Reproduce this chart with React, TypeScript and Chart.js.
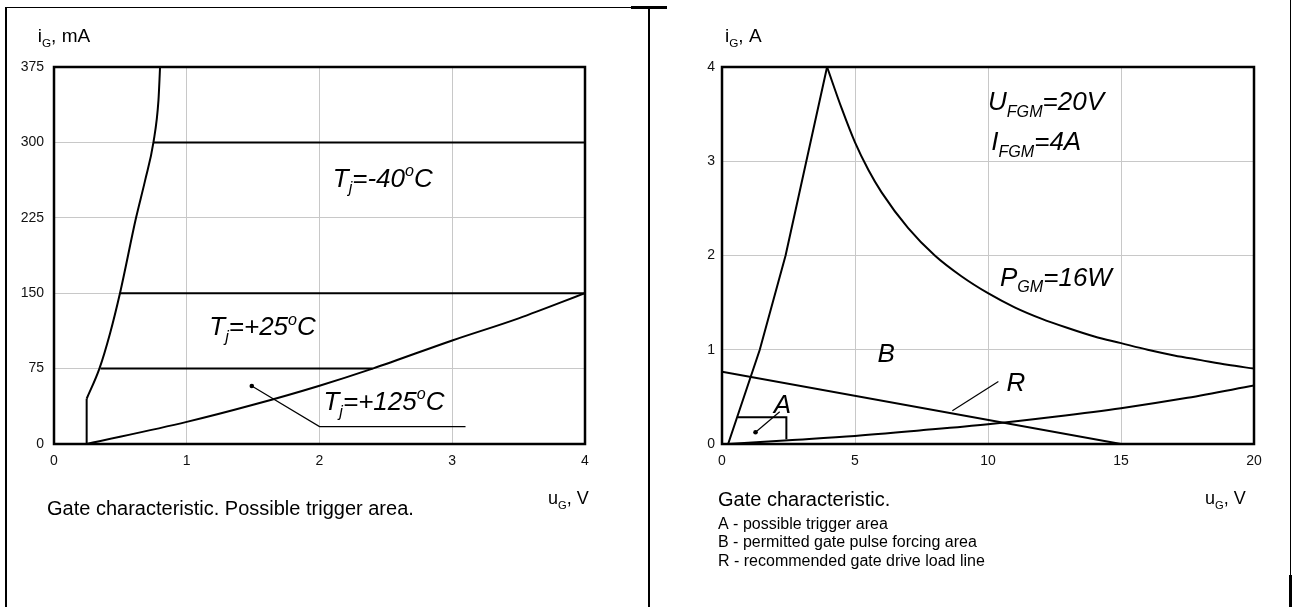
import React, { useEffect, useRef } from "react";
import { Chart, registerables } from "chart.js";

Chart.register(...registerables);

const FONT = "'Liberation Sans', Arial, Helvetica, sans-serif";

// ---------------- Left chart data (u_G in V, i_G in mA) ----------------
const leftXTicks = [0, 1, 2, 3, 4];
const leftYTicks = [0, 75, 150, 225, 300, 375];
const leftVertU = [0.246, 0.246];
const leftVertI = [0, 45];
const boundaryU = [0.246, 0.342, 0.422, 0.497, 0.618, 0.686, 0.749, 0.787, 0.799];
const boundaryI = [45, 75, 110, 150, 225, 262, 300, 342, 375];
const tj125U = [0.246, 1.0, 1.5, 2.0, 2.4, 3.0, 3.5, 4.0];
const tj125I = [0, 22, 39, 58, 75, 103, 125, 150];
const level300U = [0.749, 4];
const level300I = [300, 300];
const level150U = [0.497, 4];
const level150I = [150, 150];
const level75U = [0.35, 2.4];
const level75I = [75, 75];
const leaderLU = [1.49, 2.0, 3.1];
const leaderLI = [57.7, 17.3, 17.3];

// ---------------- Right chart data (u_G in V, i_G in A) ----------------
const rightXTicks = [0, 5, 10, 15, 20];
const rightYTicks = [0, 1, 2, 3, 4];
const ifgmU = [0.23, 1.42, 2.39, 3.95];
const ifgmI = [0, 1, 2, 4];
const pgmU = [3.95, 4.5, 5, 5.5, 6, 7, 8, 9, 10, 11, 12, 13, 14, 15, 16, 17, 18, 19, 20];
const pgmI = [4.0, 3.56, 3.2, 2.91, 2.67, 2.29, 2.0, 1.78, 1.6, 1.45, 1.33, 1.23, 1.14, 1.07, 1.0, 0.94, 0.89, 0.84, 0.8];
const lineBU = [0, 15];
const lineBI = [0.768, 0];
const loadRU = [0.23, 2.5, 5, 7.5, 10, 12.5, 15, 17.5, 20];
const loadRI = [0, 0.04, 0.085, 0.145, 0.21, 0.29, 0.38, 0.49, 0.62];
const boxAU = [0.6, 2.42, 2.42];
const boxAI = [0.283, 0.283, 0.05];
const leaderAU = [1.26, 2.17];
const leaderAI = [0.124, 0.343];
const leaderRU = [8.66, 10.39];
const leaderRI = [0.353, 0.664];

// rich text parts: [text, kind] kind 0 normal, 1 subscript, 2 superscript
type Part = [string, number];
type DataLabel = { x: number; y: number; parts: Part[]; size: number; italic: boolean };
type PixLabel = { px: number; py: number; parts: Part[]; size: number; italic: boolean };

const leftDataLabels: DataLabel[] = [
  { x: 2.1, y: 256, size: 26, italic: true, parts: [["T", 0], ["j", 1], ["=-40", 0], ["o", 2], ["C", 0]] },
  { x: 1.17, y: 108, size: 26, italic: true, parts: [["T", 0], ["j", 1], ["=+25", 0], ["o", 2], ["C", 0]] },
  { x: 2.03, y: 34, size: 26, italic: true, parts: [["T", 0], ["j", 1], ["=+125", 0], ["o", 2], ["C", 0]] },
];
const rightDataLabels: DataLabel[] = [
  { x: 10.0, y: 3.545, size: 26, italic: true, parts: [["U", 0], ["FGM", 1], ["=20V", 0]] },
  { x: 10.12, y: 3.115, size: 26, italic: true, parts: [["I", 0], ["FGM", 1], ["=4A", 0]] },
  { x: 10.45, y: 1.68, size: 26, italic: true, parts: [["P", 0], ["GM", 1], ["=16W", 0]] },
  { x: 5.85, y: 0.87, size: 26, italic: true, parts: [["B", 0]] },
  { x: 10.7, y: 0.56, size: 26, italic: true, parts: [["R", 0]] },
  { x: 1.95, y: 0.33, size: 26, italic: true, parts: [["A", 0]] },
];

const leftPixLabels: PixLabel[] = [
  { px: 37.7, py: 42, size: 19, italic: false, parts: [["i", 0], ["G", 1], [", mA", 0]] },
  { px: 548, py: 504, size: 18, italic: false, parts: [["u", 0], ["G", 1], [", V", 0]] },
  { px: 47, py: 515, size: 20, italic: false, parts: [["Gate characteristic. Possible trigger area.", 0]] },
];
const rightPixLabels: PixLabel[] = [
  { px: 76, py: 42, size: 19, italic: false, parts: [["i", 0], ["G", 1], [", A", 0]] },
  { px: 556, py: 504, size: 18, italic: false, parts: [["u", 0], ["G", 1], [", V", 0]] },
  { px: 69, py: 506, size: 20, italic: false, parts: [["Gate characteristic.", 0]] },
  { px: 69, py: 529, size: 16, italic: false, parts: [["A - possible trigger area", 0]] },
  { px: 69, py: 547, size: 16, italic: false, parts: [["B - permitted gate pulse forcing area", 0]] },
  { px: 69, py: 566, size: 16, italic: false, parts: [["R - recommended gate drive load line", 0]] },
];

function drawRich(ctx: CanvasRenderingContext2D, x: number, y: number, parts: Part[], size: number, italic: boolean) {
  let cx = x;
  ctx.fillStyle = "#000";
  ctx.textBaseline = "alphabetic";
  ctx.textAlign = "left";
  for (const [t, k] of parts) {
    const s = k === 0 ? size : size * 0.62;
    const dy = k === 1 ? size * 0.26 : k === 2 ? -size * 0.42 : 0;
    ctx.font = `${italic ? "italic " : ""}${s}px ${FONT}`;
    ctx.fillText(t, cx, y + dy);
    cx += ctx.measureText(t).width;
  }
}

function pts(us: number[], is: number[]) {
  return us.map((u, k) => ({ x: u, y: is[k] }));
}

function line(us: number[], is: number[], width = 2, smooth = false) {
  return {
    data: pts(us, is),
    showLine: true,
    borderColor: "#000",
    backgroundColor: "#000",
    borderWidth: width,
    pointRadius: 0,
    tension: smooth ? 0.4 : 0,
    cubicInterpolationMode: smooth ? "monotone" : "default",
    fill: false,
  };
}

function dot(u: number, i: number) {
  return {
    data: [{ x: u, y: i }],
    showLine: false,
    borderColor: "#000",
    backgroundColor: "#000",
    pointRadius: 2.3,
    pointBorderWidth: 0,
  };
}

function makePlugin(dataLabels: DataLabel[], pixLabels: PixLabel[]) {
  return {
    id: "decor",
    afterDatasetsDraw(chart: any) {
      const { ctx, chartArea } = chart;
      const xs = chart.scales.x;
      const ys = chart.scales.y;
      ctx.save();
      ctx.strokeStyle = "#000";
      ctx.lineWidth = 2.5;
      ctx.strokeRect(chartArea.left, chartArea.top, chartArea.right - chartArea.left, chartArea.bottom - chartArea.top);
      for (const l of dataLabels) {
        drawRich(ctx, xs.getPixelForValue(l.x), ys.getPixelForValue(l.y), l.parts, l.size, l.italic);
      }
      for (const l of pixLabels) {
        drawRich(ctx, l.px, l.py, l.parts, l.size, l.italic);
      }
      ctx.restore();
    },
  };
}

function scaleOpts(min: number, max: number, ticks: number[], fixed: number, isX: boolean, pad: number) {
  return {
    type: "linear",
    min,
    max,
    afterBuildTicks: (s: any) => {
      s.ticks = ticks.map((v) => ({ value: v }));
    },
    afterFit: (s: any) => {
      if (isX) s.height = fixed;
      else s.width = fixed;
    },
    ticks: {
      color: "#111",
      font: { family: FONT, size: 14 },
      padding: pad,
      maxRotation: 0,
    },
    grid: { color: "#c8c8c8", lineWidth: 1, drawTicks: false },
    border: { display: false },
  };
}

function buildLeft(canvas: HTMLCanvasElement) {
  return new Chart(canvas, {
    type: "scatter",
    data: {
      datasets: [
        line(leftVertU, leftVertI, 2),
        line(boundaryU, boundaryI, 2, true),
        line(tj125U, tj125I, 2, true),
        line(level300U, level300I, 2),
        line(level150U, level150I, 2),
        line(level75U, level75I, 2),
        line(leaderLU, leaderLI, 1.2),
        dot(leaderLU[0], leaderLI[0]),
      ] as any,
    },
    options: {
      animation: false,
      responsive: false,
      maintainAspectRatio: false,
      events: [],
      layout: { padding: { left: 0, top: 67, right: 64, bottom: 607 - 444 - 40 } },
      plugins: { legend: { display: false }, tooltip: { enabled: false } },
      scales: {
        x: scaleOpts(0, 4, leftXTicks, 40, true, 9),
        y: scaleOpts(0, 375, leftYTicks, 54, false, 10),
      } as any,
    },
    plugins: [makePlugin(leftDataLabels, leftPixLabels)],
  } as any);
}

function buildRight(canvas: HTMLCanvasElement) {
  return new Chart(canvas, {
    type: "scatter",
    data: {
      datasets: [
        line(ifgmU, ifgmI, 2),
        line(pgmU, pgmI, 2, true),
        line(lineBU, lineBI, 2),
        line(loadRU, loadRI, 2, true),
        line(boxAU, boxAI, 2),
        line(leaderAU, leaderAI, 1.2),
        dot(leaderAU[0], leaderAI[0]),
        line(leaderRU, leaderRI, 1.2),
      ] as any,
    },
    options: {
      animation: false,
      responsive: false,
      maintainAspectRatio: false,
      events: [],
      layout: { padding: { left: 0, top: 67, right: 41, bottom: 607 - 444 - 40 } },
      plugins: { legend: { display: false }, tooltip: { enabled: false } },
      scales: {
        x: scaleOpts(0, 20, rightXTicks, 40, true, 9),
        y: scaleOpts(0, 4, rightYTicks, 73, false, 7),
      } as any,
    },
    plugins: [makePlugin(rightDataLabels, rightPixLabels)],
  } as any);
}

const bar = (left: number, top: number, width: number, height: number): React.CSSProperties => ({
  position: "absolute",
  left,
  top,
  width,
  height,
  background: "#000",
});

export default function App() {
  const leftRef = useRef<HTMLCanvasElement>(null);
  const rightRef = useRef<HTMLCanvasElement>(null);

  useEffect(() => {
    const a = buildLeft(leftRef.current!);
    const b = buildRight(rightRef.current!);
    return () => {
      a.destroy();
      b.destroy();
    };
  }, []);

  return (
    <div style={{ position: "absolute", left: 0, top: 0, width: 1295, height: 607, background: "#fff", overflow: "hidden" }}>
      <canvas ref={leftRef} width={649} height={607} style={{ position: "absolute", left: 0, top: 0, width: 649, height: 607 }} />
      <canvas ref={rightRef} width={646} height={607} style={{ position: "absolute", left: 649, top: 0, width: 646, height: 607 }} />
      <div style={bar(5, 7, 2, 600)} />
      <div style={bar(5, 7, 626, 1)} />
      <div style={bar(631, 6, 36, 3)} />
      <div style={bar(648, 7, 2, 600)} />
      <div style={bar(1290, 0, 1, 575)} />
      <div style={bar(1289, 575, 3, 32)} />
    </div>
  );
}
